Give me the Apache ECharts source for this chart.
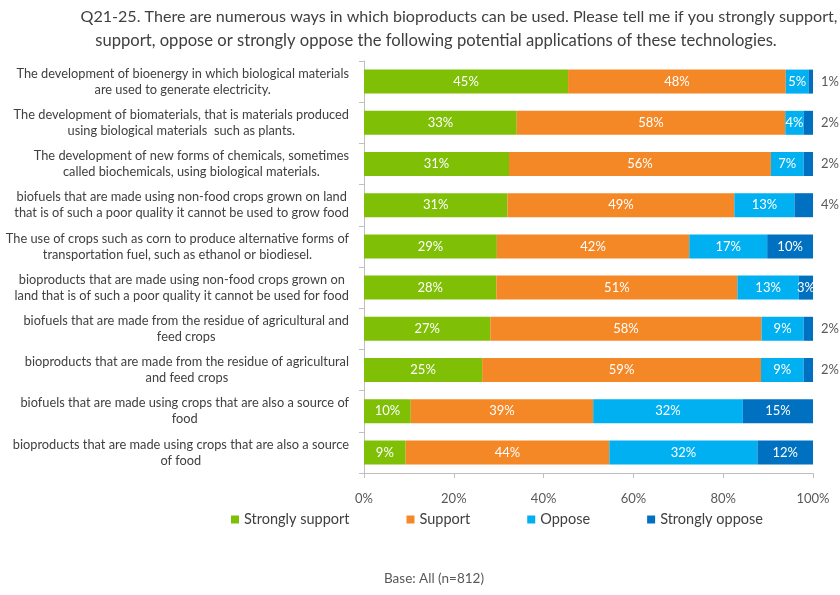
<!DOCTYPE html>
<html>
<head>
<meta charset="utf-8">
<script src="https://cdn.jsdelivr.net/npm/echarts@6/dist/echarts.min.js"></script>
<style>
html,body{margin:0;padding:0;background:#fff;}
#c{width:840px;height:595px;}
</style>
</head>
<body>
<div id="c"></div>
<script>
const titleLines = [
  "Q21-25. There are numerous ways in which bioproducts can be used. Please tell me if you strongly support,",
  "support, oppose or strongly oppose the following potential applications of these technologies."
];
const categories = [
  "The development of bioenergy in which biological materials\nare used to generate electricity.",
  "The development of biomaterials, that is materials produced\nusing biological materials  such as plants.",
  "The development of new forms of chemicals, sometimes\ncalled biochemicals, using biological materials.",
  "biofuels that are made using non-food crops grown on land\nthat is of such a poor quality it cannot be used to grow food",
  "The use of crops such as corn to produce alternative forms of\ntransportation fuel, such as ethanol or biodiesel.",
  "bioproducts that are made using non-food crops grown on\nland that is of such a poor quality it cannot be used for food",
  "biofuels that are made from the residue of agricultural and\nfeed crops",
  "bioproducts that are made from the residue of agricultural\nand feed crops",
  "biofuels that are made using crops that are also a source of\nfood",
  "bioproducts that are made using crops that are also a source\nof food"
];
const seriesNames = ["Strongly support", "Support", "Oppose", "Strongly oppose"];
const stronglySupport = [45, 33, 31, 31, 29, 28, 27, 25, 10, 9];
const support = [48, 58, 56, 49, 42, 51, 58, 59, 39, 44];
const oppose = [5, 4, 7, 13, 17, 13, 9, 9, 32, 32];
const stronglyOppose = [1, 2, 2, 4, 10, 3, 2, 2, 15, 12];
const xTicks = ["0%", "20%", "40%", "60%", "80%", "100%"];

const colors = ["#7FBF06", "#F58826", "#00B0F0", "#0070C0"];
const outsideRows = [0, 1, 2, 3, 6, 7];
const FONT = "Lato";

const all = [stronglySupport, support, oppose, stronglyOppose];
const totals = categories.map((_, i) => all.reduce((s, arr) => s + arr[i], 0));

const series = all.map((arr, si) => ({
  name: seriesNames[si],
  type: 'bar',
  stack: 'total',
  barWidth: 24,
  itemStyle: { color: colors[si] },
  label: {
    show: true,
    position: 'inside',
    color: '#fff',
    fontFamily: FONT,
    fontSize: 13,
    formatter: p => p.data.raw + '%'
  },
  data: arr.map((v, i) => {
    const d = { value: v / totals[i] * 100, raw: v };
    if (si === 3 && outsideRows.includes(i)) {
      d.label = { position: 'right', distance: 8, color: '#595959' };
    }
    return d;
  })
}));

const chart = echarts.init(document.getElementById('c'), null, { renderer: 'canvas' });
chart.setOption({
  animation: false,
  title: [
    { text: titleLines[0], left: 459, top: 7, textAlign: 'center', padding: 0,
      textStyle: { fontFamily: FONT, fontSize: 16.1, fontWeight: 'normal', color: '#404040', lineHeight: 20 } },
    { text: titleLines[1], left: 436, top: 31, textAlign: 'center', padding: 0,
      textStyle: { fontFamily: FONT, fontSize: 16.6, fontWeight: 'normal', color: '#404040', lineHeight: 20 } }
  ],
  legend: {
    data: seriesNames,
    left: 226, top: 507,
    icon: 'rect', itemWidth: 8, itemHeight: 8, itemGap: 57,
    textStyle: { fontFamily: FONT, fontSize: 14.5, color: '#404040' }
  },
  grid: { left: 364, right: 27, top: 61, bottom: 122, containLabel: false },
  xAxis: {
    type: 'value', min: 0, max: 100, interval: 20,
    axisLine: { show: true, lineStyle: { color: '#BFBFBF' } },
    axisTick: { show: true, length: 5, lineStyle: { color: '#BFBFBF' } },
    splitLine: { show: false },
    axisLabel: { margin: 19, fontFamily: FONT, fontSize: 13, color: '#595959',
      formatter: v => xTicks[Math.round(v / 20)] }
  },
  yAxis: {
    type: 'category', inverse: true, data: categories,
    axisLine: { show: true, lineStyle: { color: '#BFBFBF' } },
    axisTick: { show: true, length: 5, lineStyle: { color: '#BFBFBF' } },
    axisLabel: {
      margin: 15, align: 'right', color: '#404040', fontFamily: FONT, fontSize: 12.8, lineHeight: 16,
      formatter: v => v.split('\n').map(l => '{c|' + l + '}').join('\n'),
      rich: { c: { align: 'center', fontFamily: FONT, fontSize: 12.8, lineHeight: 16, color: '#404040' } }
    }
  },
  graphic: [{
    type: 'text', x: 434, y: 572,
    style: { text: 'Base: All (n=812)', fontFamily: FONT, fontSize: 13.5, fill: '#595959', textAlign: 'center' }
  }],
  series: series
});
</script>
</body>
</html>
